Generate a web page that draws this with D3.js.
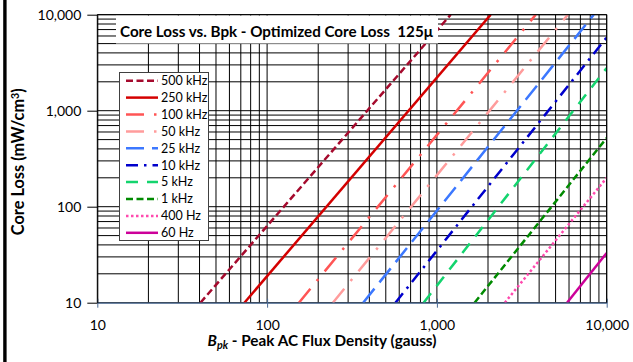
<!DOCTYPE html>
<html><head><meta charset="utf-8">
<script src="https://cdn.jsdelivr.net/npm/d3@7"></script>
<style>body{margin:0;background:#fff}svg{display:block}text{white-space:pre}</style>
</head><body>
<svg id="c" width="633" height="362"></svg>
<script>
// ---- data ----
const seriesNames = ["500 kHz","250 kHz","100 kHz","50 kHz","25 kHz","10 kHz","5 kHz","1 kHz","400 Hz","60 Hz"];
const bpkStart  = [40.5, 73.5, 154, 244, 368, 570, 835, 1667, 2512, 5840];
const lossStart = [10, 10, 10, 10, 10, 10, 10, 10, 10, 10];
const bpkEnd    = [1205, 2074, 3820, 5900, 8390, 10000, 10000, 10000, 10000, 10000];
const lossEnd   = [10000, 10000, 10000, 10000, 10000, 5800, 2786, 520, 200, 33];
const xTickValues = [10, 100, 1000, 10000];
const yTickValues = [10, 100, 1000, 10000];
const chartTitle = "Core Loss vs. Bpk - Optimized Core Loss  125\u03bc";

// ---- styles ----
const colors = ["#A50A2D","#D40000","#FF5555","#FF9C9C","#3C78FF","#0000CC","#14D46E","#008A00","#FF4AAE","#CC0099"];
const dashes = ["7,3.5", null, "18,10,2.5,10", "18,10,2.5,10", "18,8", "12,6,2.5,6", "12,9", "7,3.5", "2.5,2.5", null];

const svg = d3.select("#c");
const L = 97.3, R = 606.7, T = 14.7, B = 302.7;
const x = d3.scaleLog().domain([10, 10000]).range([L, R]);
const y = d3.scaleLog().domain([10, 10000]).range([B, T]);
const font = "Lato, 'Open Sans', sans-serif";

function fitWidth(sel, target) {
  const n = sel.node();
  const fs = parseFloat(sel.attr("font-size"));
  const w = n.getComputedTextLength();
  if (w > 0) sel.attr("font-size", (fs * target / w).toFixed(2));
}

// outer left border
svg.append("rect").attr("x", 3.2).attr("y", 0).attr("width", 3.4).attr("height", 362).attr("fill", "#000");

// grid
const gridVals = [];
for (let e = 1; e < 4; e++) for (let m = 1; m < 10; m++) gridVals.push(m * Math.pow(10, e));
gridVals.push(10000);
const g = svg.append("g");
g.selectAll("line.v").data(gridVals).join("line")
  .attr("x1", d => x(d)).attr("x2", d => x(d)).attr("y1", T).attr("y2", B)
  .attr("stroke", "#000").attr("stroke-width", 1);
g.selectAll("line.h").data(gridVals).join("line")
  .attr("y1", d => y(d)).attr("y2", d => y(d)).attr("x1", L).attr("x2", R)
  .attr("stroke", "#000").attr("stroke-width", 1);

// clip
svg.append("clipPath").attr("id", "clip").append("rect").attr("x", L).attr("y", T).attr("width", R - L).attr("height", B - T);

// series lines
const series = seriesNames.map((n, i) => ({ name: n, pts: [[bpkStart[i], lossStart[i]], [bpkEnd[i], lossEnd[i]]], i }));
const line = d3.line().x(d => x(d[0])).y(d => y(d[1]));
svg.append("g").attr("clip-path", "url(#clip)").selectAll("path").data(series).join("path")
  .attr("d", d => line(d.pts)).attr("fill", "none")
  .attr("stroke", d => colors[d.i]).attr("stroke-width", 2.5)
  .attr("stroke-dasharray", d => dashes[d.i]);

// title box (on top of lines)
svg.append("rect").attr("x", 116).attr("y", T + 0.8).attr("width", 322).attr("height", 28).attr("fill", "#fff");
const tt = svg.append("text").attr("x", 120).attr("y", 36.5).attr("font-family", font).attr("font-weight", "bold")
  .attr("font-size", 14).attr("fill", "#000").text(chartTitle);
fitWidth(tt, 313);

// axes
const xAxis = d3.axisBottom(x).tickValues(xTickValues).tickFormat(d3.format(",")).tickSize(5).tickSizeOuter(0);
const xg = svg.append("g").attr("transform", `translate(0,${B})`).call(xAxis);
xg.select(".domain").attr("stroke", "#4A6A94").attr("stroke-width", 1.3);
xg.selectAll(".tick line").attr("stroke", "#4A6A94").attr("y1", -4).attr("y2", 5);
xg.selectAll(".tick text").attr("font-family", font).attr("font-size", 14).attr("fill", "#000").attr("dy", "1.35em");

const yAxis = d3.axisLeft(y).tickValues(yTickValues).tickFormat(d3.format(",")).tickSize(10).tickSizeOuter(0);
const yg = svg.append("g").attr("transform", `translate(${L},0)`).call(yAxis);
yg.select(".domain").attr("stroke", "#000");
yg.selectAll(".tick line").attr("stroke", "#000");
yg.selectAll(".tick text").attr("font-family", font).attr("font-size", 14).attr("fill", "#000").attr("x", -16);

// plot frame top/right
svg.append("line").attr("x1", L).attr("x2", R).attr("y1", T).attr("y2", T).attr("stroke", "#000");
svg.append("line").attr("x1", R).attr("x2", R).attr("y1", T).attr("y2", B).attr("stroke", "#000");

// legend
const lg = svg.append("g");
lg.append("rect").attr("x", 119.5).attr("y", 72.5).attr("width", 89).attr("height", 168)
  .attr("fill", "#fff").attr("stroke", "#404040").attr("stroke-width", 1);
const items = lg.selectAll("g.it").data(series).join("g")
  .attr("transform", d => `translate(0,${80.7 + d.i * 16.9})`);
items.append("line").attr("x1", 126).attr("x2", 158).attr("y1", 0).attr("y2", 0)
  .attr("stroke", d => colors[d.i]).attr("stroke-width", 2.5).attr("stroke-dasharray", d => dashes[d.i]);
items.append("text").attr("x", 161).attr("y", 0).attr("dy", "0.35em").attr("font-family", font)
  .attr("font-size", 12.5).attr("fill", "#000").text(d => d.name);

// axis titles
const yt = svg.append("text").attr("transform", `translate(24,${(T + B) / 2 + 3}) rotate(-90)`).attr("text-anchor", "middle")
  .attr("font-family", font).attr("font-weight", "bold").attr("font-size", 14).attr("fill", "#000")
  .html("Core Loss (mW/cm<tspan dy='-5' font-size='0.65em'>3</tspan><tspan dy='5'>)</tspan>");
fitWidth(yt, 147);
const xt = svg.append("text").attr("x", 322).attr("y", 346).attr("text-anchor", "middle")
  .attr("font-family", font).attr("font-weight", "bold").attr("font-size", 14).attr("fill", "#000");
xt.append("tspan").attr("font-style", "italic").text("B");
xt.append("tspan").attr("font-style", "italic").attr("font-size", "0.7em").attr("dy", 3).text("pk");
xt.append("tspan").attr("dy", -3).text(" - Peak AC Flux Density (gauss)");
fitWidth(xt, 229);
</script>
</body></html>
